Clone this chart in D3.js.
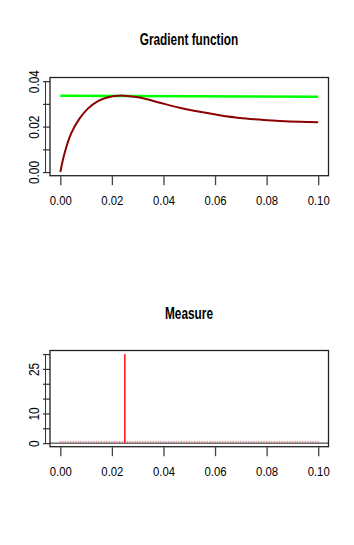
<!DOCTYPE html>
<html>
<head>
<meta charset="utf-8">
<script src="https://cdn.jsdelivr.net/npm/d3@7"></script>
<style>
    body { margin: 0; background: #fff; }
    svg { display: block; font-family: "Liberation Sans", Arial, sans-serif; }
</style>
</head>
<body>
<div class="chart"></div>
<script>
// Data: gradient function
const gradX = [0, 0.0017, 0.0043, 0.0075, 0.0107, 0.0146, 0.0185, 0.0224, 0.026, 0.0308,
    0.0386, 0.0463, 0.0541, 0.0618, 0.0696, 0.0774, 0.0851, 0.0929, 0.1];
const gradY = [0, 0.0085, 0.0172, 0.0236, 0.0279, 0.0312, 0.0329, 0.0336, 0.0335, 0.0328,
    0.0305, 0.0283, 0.0265, 0.025, 0.0238, 0.0231, 0.0225, 0.0221, 0.0219];
const boundX = [0, 0.1];
const boundY = [0.0336, 0.0331];

// Data: measure
const supportX = [0.025];
const weights = [30];
const gridX = d3.range(0, 101).map(i => i / 1000); // design grid, all zero weight
const gridW = gridX.map(() => 0);

// Ticks
const xTicks = [0, 0.02, 0.04, 0.06, 0.08, 0.1];
const xTickLabels = ['0.00', '0.02', '0.04', '0.06', '0.08', '0.10'];
const gradYTicks = [0, 0.01, 0.02, 0.03, 0.04];
const gradYLabels = ['0.00', '', '0.02', '', '0.04'];
const measYTicks = [0, 5, 10, 15, 20, 25, 30];
const measYLabels = ['0', '', '10', '', '', '25', ''];

const svg = d3.select('.chart')
    .append('svg')
    .attr('width', 354)
    .attr('height', 545);

const boxLeft = 50, boxRight = 328.5;

// R style padding of 4%
function padded(lo, hi) {
    const p = (hi - lo) * 0.04;
    return [lo - p, hi + p];
}

function drawPanel(opts) {
    const xScale = d3.scaleLinear()
        .domain(padded(0, 0.1))
        .range([boxLeft, boxRight]);
    const yScale = d3.scaleLinear()
        .domain(padded(opts.yMin, opts.yMax))
        .range([opts.bottom, opts.top]);

    // title
    svg.append('text')
        .attr('transform', 'translate(189,' + opts.titleY + ') scale(0.74,1)')
        .attr('text-anchor', 'middle')
        .style('font-size', '16px')
        .style('font-weight', 'bold')
        .text(opts.title);

    // x axis
    const xAxis = d3.axisBottom(xScale)
        .tickValues(xTicks)
        .tickFormat((d, i) => xTickLabels[i])
        .tickSizeInner(9)
        .tickSizeOuter(0);
    const xg = svg.append('g')
        .attr('transform', 'translate(0,' + (opts.bottom + 0.5) + ')')
        .call(xAxis);
    xg.select('.domain').remove();
    xg.selectAll('line').attr('stroke', '#444').attr('stroke-width', 1.3);
    xg.selectAll('text')
        .attr('y', 29)
        .attr('dy', 0)
        .attr('transform', 'scale(0.84,1)')
        .attr('fill', '#000')
        .style('font-size', '13.5px')
        .style('font-family', '"Liberation Sans", Arial, sans-serif');

    // y axis
    const yAxis = d3.axisLeft(yScale)
        .tickValues(opts.yTicks)
        .tickFormat((d, i) => opts.yLabels[i])
        .tickSizeInner(-4.5)
        .tickSizeOuter(0);
    const yg = svg.append('g')
        .attr('transform', 'translate(45.5,0)')
        .call(yAxis);
    yg.select('.domain').remove();
    yg.append('line')
        .attr('x1', 0).attr('x2', 0)
        .attr('y1', yScale(opts.yTicks[0]))
        .attr('y2', yScale(opts.yTicks[opts.yTicks.length - 1]))
        .attr('stroke', '#333');
    yg.selectAll('.tick line').attr('x1', -2.5).attr('stroke', '#333').attr('stroke-width', 1.2);
    yg.selectAll('text')
        .attr('x', 0)
        .attr('dy', 0)
        .attr('transform', 'translate(-6.5,0) rotate(-90) scale(0.82,1)')
        .attr('text-anchor', 'middle')
        .attr('fill', '#000')
        .style('font-size', '14.5px')
        .style('font-family', '"Liberation Sans", Arial, sans-serif');

    opts.drawMarks(svg.append('g'), xScale, yScale);

    // box
    svg.append('rect')
        .attr('x', boxLeft)
        .attr('y', opts.top)
        .attr('width', boxRight - boxLeft)
        .attr('height', opts.bottom - opts.top)
        .attr('fill', 'none')
        .attr('stroke', '#222')
        .attr('stroke-width', 1.3);
}

// Panel 1: gradient function
drawPanel({
    title: 'Gradient function',
    titleY: 45,
    top: 77.5,
    bottom: 175.7,
    yMin: 0,
    yMax: 0.04,
    yTicks: gradYTicks,
    yLabels: gradYLabels,
    drawMarks: (g, x, y) => {
        const line = d3.line()
            .x(d => x(d[0]))
            .y(d => y(d[1]))
            .curve(d3.curveCatmullRom.alpha(0.5));
        g.append('path')
            .datum(boundX.map((d, i) => [d, boundY[i]]))
            .attr('d', line)
            .attr('fill', 'none')
            .attr('stroke', '#00ff00')
            .attr('stroke-width', 2.5);
        g.append('path')
            .datum(gradX.map((d, i) => [d, gradY[i]]))
            .attr('d', line)
            .attr('fill', 'none')
            .attr('stroke', '#8b0000')
            .attr('stroke-width', 2);
    }
});

// Panel 2: measure
drawPanel({
    title: 'Measure',
    titleY: 319,
    top: 350.5,
    bottom: 446.7,
    yMin: 0,
    yMax: 30,
    yTicks: measYTicks,
    yLabels: measYLabels,
    drawMarks: (g, x, y) => {
        g.append('line')
            .attr('x1', boxLeft).attr('x2', boxRight)
            .attr('y1', y(0)).attr('y2', y(0))
            .attr('stroke', '#222')
            .attr('stroke-width', 1);
        g.selectAll('.grid-pt')
            .data(gridX)
            .enter()
            .append('rect')
            .attr('class', 'grid-pt')
            .attr('x', d => x(d) - 0.6)
            .attr('y', (d, i) => y(gridW[i]) - 2.2)
            .attr('width', 1.2)
            .attr('height', 1.6)
            .attr('fill', '#e04050')
            .attr('opacity', 0.6);
        g.selectAll('.spike')
            .data(supportX)
            .enter()
            .append('line')
            .attr('class', 'spike')
            .attr('x1', d => x(d)).attr('x2', d => x(d))
            .attr('y1', y(0))
            .attr('y2', (d, i) => y(weights[i]))
            .attr('stroke', '#ff2020')
            .attr('stroke-width', 1.6);
    }
});
</script>
</body>
</html>
